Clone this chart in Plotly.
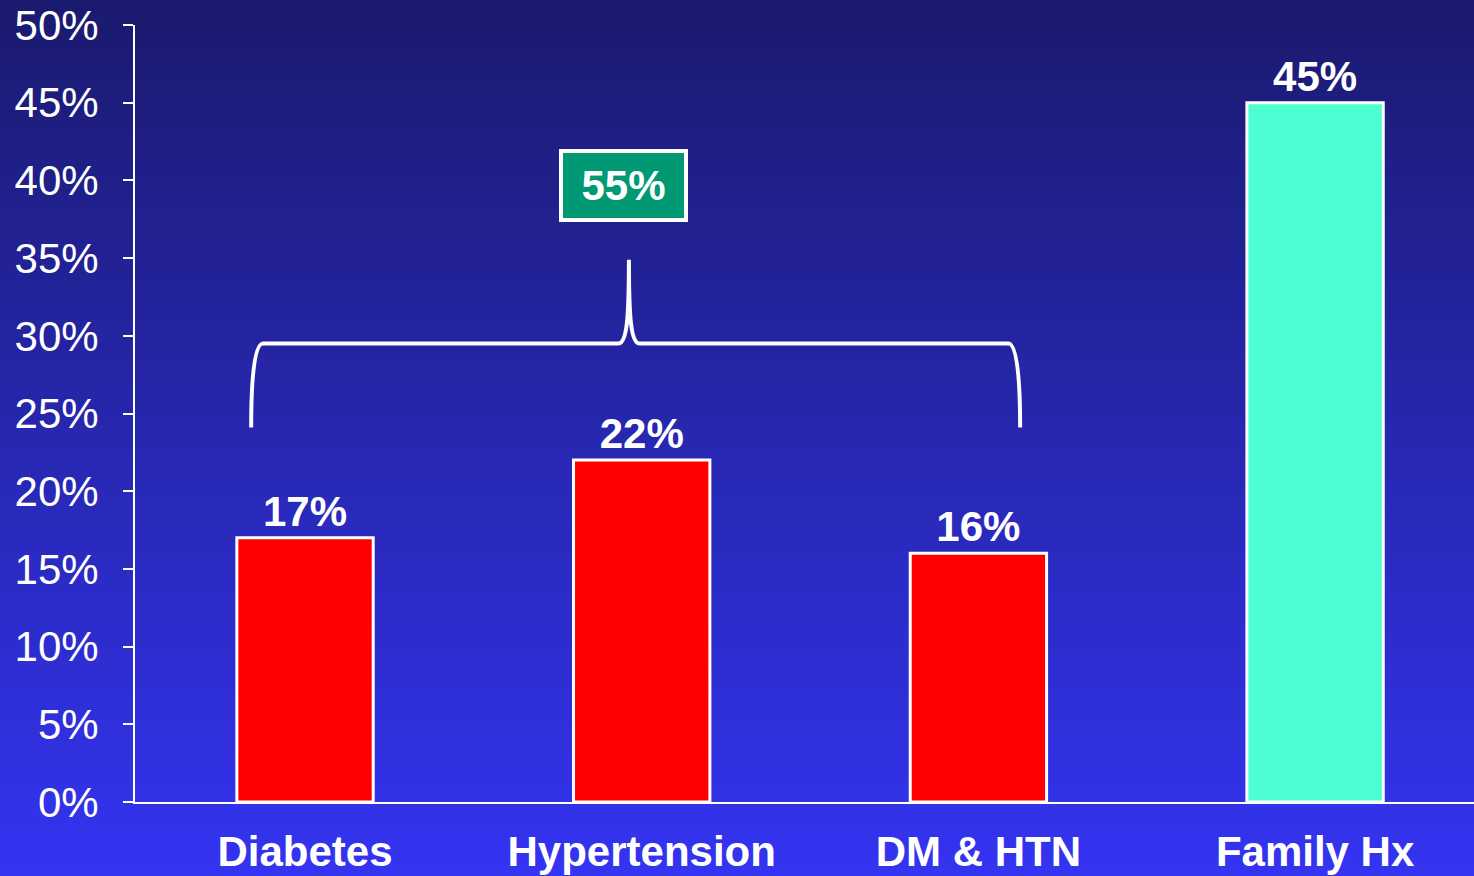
import plotly.graph_objects as go

# Share of patients by condition (percent)
categories = ["Diabetes", "Hypertension", "DM &amp; HTN", "Family Hx"]
values = [17, 22, 16, 45]
bar_colors = ["#FF0000", "#FF0000", "#FF0000", "#4BFFD2"]
y_ticks = [0, 5, 10, 15, 20, 25, 30, 35, 40, 45, 50]

# The first three groups are bracketed together and summed
grouped_total = sum(values[:3])

FONT = "Liberation Sans, Arial, sans-serif"
WHITE = "#FFFFFF"

fig = go.Figure()
fig.add_trace(go.Bar(
    x=categories,
    y=values,
    width=0.405,
    marker=dict(color=bar_colors, line=dict(color=WHITE, width=3)),
    text=[f"{v}%" for v in values],
    textposition="outside",
    textfont=dict(family=FONT, size=42, color=WHITE, weight="bold"),
    cliponaxis=False,
    hoverinfo="skip",
))

# Vertical background gradient, dark navy at the top to bright blue at the bottom
top_rgb = (26, 26, 110)
bot_rgb = (52, 52, 242)
n_strips = 160
y_top, y_bot = 1.04, -0.1
shapes = []
for i in range(n_strips):
    t = i / (n_strips - 1)
    r, g, b = (round(a + (c - a) * t) for a, c in zip(top_rgb, bot_rgb))
    y1 = y_top - (y_top - y_bot) * i / n_strips
    y0 = y_top - (y_top - y_bot) * (i + 1) / n_strips
    shapes.append(dict(
        type="rect", xref="paper", yref="paper", layer="below",
        x0=-0.12, x1=1.05, y0=y0 - 0.001, y1=y1 + 0.001,
        fillcolor=f"rgb({r},{g},{b})", line=dict(width=0),
    ))

# Curly brace spanning the first three bars
bl, br = -0.160, 2.124      # left / right ends
bm = 0.962                  # position of the central peak
y_end, y_bar, y_peak = 24.1, 29.5, 34.9
brace = (
    f"M {bl},{y_end} "
    f"C {bl},{y_bar - 2.5} {bl + 0.008},{y_bar} {bl + 0.035},{y_bar} "
    f"L {bm - 0.032},{y_bar} "
    f"C {bm - 0.006},{y_bar} {bm},{y_bar + 1.6} {bm},{y_peak} "
    f"C {bm},{y_bar + 1.6} {bm + 0.006},{y_bar} {bm + 0.032},{y_bar} "
    f"L {br - 0.035},{y_bar} "
    f"C {br - 0.008},{y_bar} {br},{y_bar - 2.5} {br},{y_end}"
)
shapes.append(dict(type="path", xref="x", yref="y", path=brace,
                   line=dict(color=WHITE, width=4), layer="above"))

fig.update_layout(
    width=1474, height=876,
    margin=dict(l=135, r=0, t=25, b=74),
    paper_bgcolor="rgba(0,0,0,0)",
    plot_bgcolor="rgba(0,0,0,0)",
    showlegend=False,
    bargap=0.6,
    shapes=shapes,
    font=dict(family=FONT, color=WHITE),
    annotations=[dict(
        x=0.947, y=39.7, xref="x", yref="y",
        text=f"<b>{grouped_total}%</b>", showarrow=False,
        font=dict(family=FONT, size=42, color=WHITE),
        bgcolor="#009973", bordercolor=WHITE, borderwidth=4, borderpad=0,
        width=121, height=65,
    )],
    xaxis=dict(
        range=[-0.505, 3.472],
        showline=True, linecolor=WHITE, linewidth=2,
        showgrid=False, zeroline=False, ticks="",
        tickfont=dict(family=FONT, size=42, color=WHITE, weight="bold"),
        ticklabelstandoff=12,
        fixedrange=True,
    ),
    yaxis=dict(
        range=[0, 50],
        tickvals=y_ticks, ticktext=[f"{t}%" for t in y_ticks],
        showline=True, linecolor=WHITE, linewidth=2,
        ticks="outside", ticklen=10, tickwidth=2, tickcolor=WHITE,
        showgrid=False, zeroline=False,
        tickfont=dict(family=FONT, size=42, color=WHITE),
        ticklabelstandoff=16,
        fixedrange=True,
    ),
)

fig.write_html("out.html", config={"displayModeBar": False})
